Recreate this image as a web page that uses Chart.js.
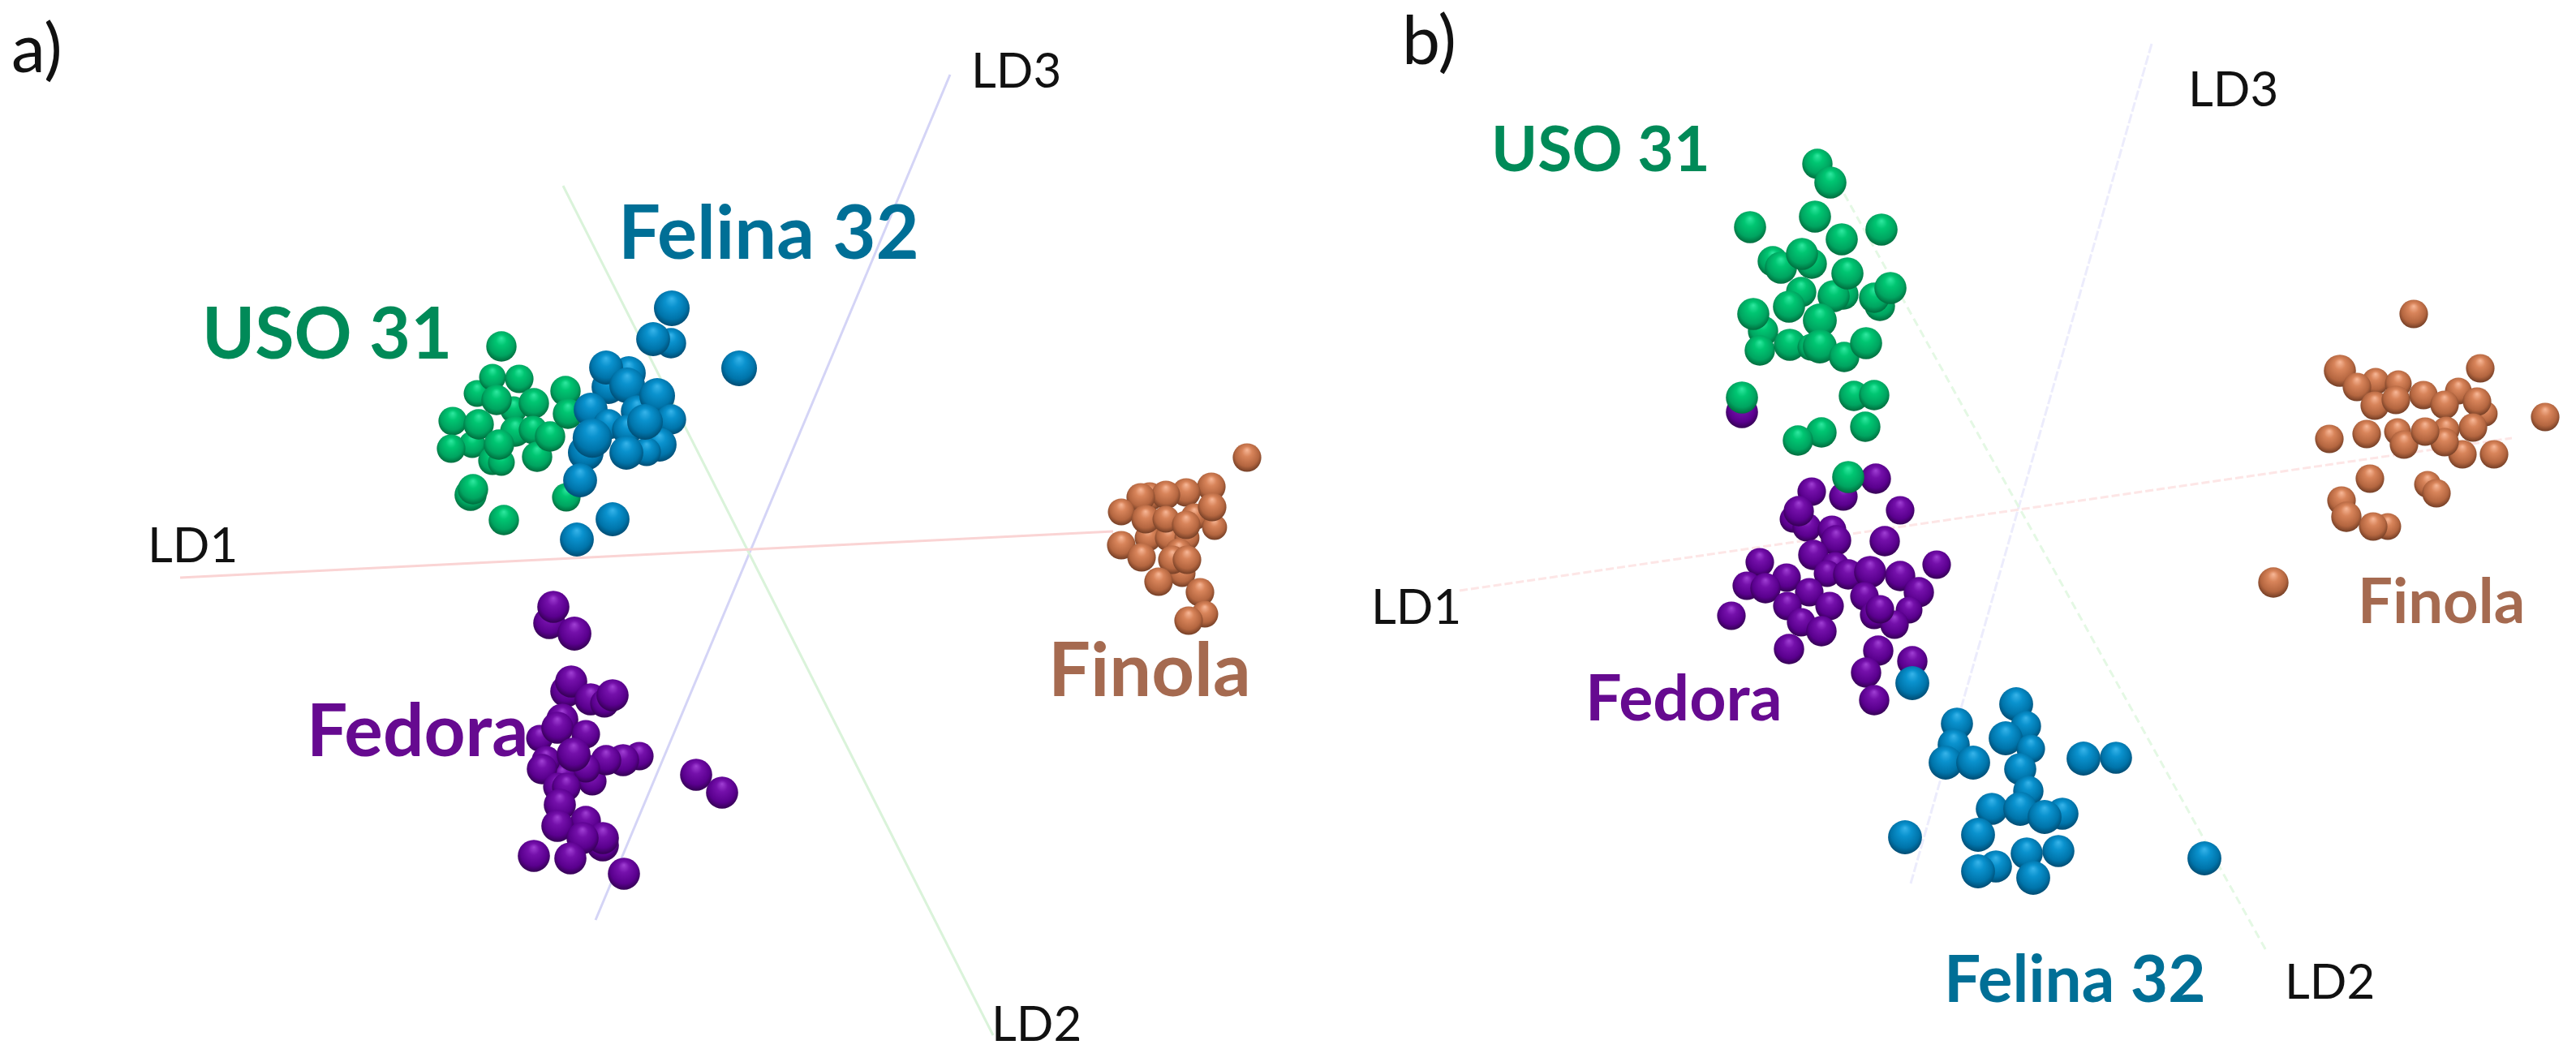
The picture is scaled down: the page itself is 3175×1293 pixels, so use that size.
<!DOCTYPE html>
<html>
<head>
    <title>LDA</title>
    <script src="https://cdn.jsdelivr.net/npm/chart.js"></script>
    <style>
        html, body { margin: 0; padding: 0; background: #fff; }
        #page { position: relative; width: 3175px; height: 1293px; overflow: hidden; background: #fff; }
        canvas { position: absolute; top: 0; }
        #chartA { left: 0; }
        #chartB { left: 1588px; }
        .lab { position: absolute; font-family: Lato, sans-serif; line-height: 1; white-space: nowrap; }
        .ld { font-size: 60px; color: #111; }
        .panel { font-size: 84px; color: #111; }
        .name { font-weight: bold; }
        .uso { color: #008a58; }
        .felina { color: #006f96; }
        .fedora { color: #660a90; }
        .finola { color: #a56a50; }
    </style>
</head>
<body>
<div id="page">
    <canvas id="chartA" width="1588" height="1293"></canvas>
    <canvas id="chartB" width="1587" height="1293"></canvas>

    <div class="lab panel" style="left:14px;top:15px">a)</div>
    <div class="lab ld" style="left:1197px;top:55px">LD3</div>
    <div class="lab ld" style="left:182px;top:640px">LD1</div>
    <div class="lab ld" style="left:1222px;top:1230px">LD2</div>
    <div class="lab name felina" style="left:762px;top:238px;font-size:92px">Felina 32</div>
    <div class="lab name uso" style="left:249px;top:364px;font-size:88px">USO 31</div>
    <div class="lab name fedora" style="left:378px;top:853px;font-size:89px">Fedora</div>
    <div class="lab name finola" style="left:1292px;top:777px;font-size:92px">Finola</div>

    <div class="lab panel" style="left:1728px;top:5px">b)</div>
    <div class="lab ld" style="left:2697px;top:78px">LD3</div>
    <div class="lab ld" style="left:1690px;top:716px">LD1</div>
    <div class="lab ld" style="left:2816px;top:1178px">LD2</div>
    <div class="lab name uso" style="left:1838px;top:143px;font-size:77px">USO 31</div>
    <div class="lab name fedora" style="left:1954px;top:818px;font-size:79px">Fedora</div>
    <div class="lab name finola" style="left:2906px;top:701px;font-size:76px">Finola</div>
    <div class="lab name felina" style="left:2396px;top:1164px;font-size:80px">Felina 32</div>
</div>

<script>
    // projected LD scores: [x, y, sphere radius], origin where the LD axes cross
    const usoA = [[-341,129,15],[-316,109,16],[-305,107,15],[-335,192,15],[-290,172,15],[-316,212,15],[-283,210,16],[-311,184,17],
        [-265,180,17],[-365,158,16],[-367,124,16],[-333,154,17],[-288,145,17],[-266,147,16],[-308,129,17],[-261,114,17],
        [-245,139,17],[-305,250,17],[-226,195,17],[-223,167,17],[-343,67,18],[-340,74,17],[-302,36,17],[-225,64,16]];
    const felinaA = [[-96,254,17],[-118,259,19],[-95,297,20],[-12,223,20],[-148,217,19],[-173,200,19],[-176,224,19],[-150,202,20],
        [-138,170,18],[-113,189,20],[-96,160,17],[-195,172,19],[-173,154,17],[-150,147,17],[-110,129,19],[-126,120,16],
        [-151,119,19],[-128,157,20],[-201,119,20],[-193,137,22],[-208,85,19],[-168,37,19],[-212,12,19]];
    const fedoraA = [[-246,-91,18],[-241,-71,18],[-215,-104,19],[-225,-175,18],[-219,-163,18],[-195,-185,18],[-178,-190,16],
        [-168,-180,18],[-258,-233,15],[-230,-210,18],[-236,-220,18],[-201,-228,16],[-193,-286,16],[-135,-255,16],[-155,-260,18],
        [-176,-260,17],[-201,-270,16],[-230,-280,15],[-250,-260,16],[-255,-271,17],[-216,-253,19],[-236,-293,16],[-225,-293,16],
        [-233,-315,18],[-201,-335,17],[-236,-341,18],[-180,-365,18],[-180,-356,18],[-205,-356,18],[-265,-378,18],[-220,-381,18],
        [-154,-400,18],[-65,-278,18],[-33,-300,18]];
    const finolaA = [[614,113,16],[494,65,16],[570,77,16],[539,70,16],[514,67,16],[483,64,16],[459,46,15],[492,14,15],[517,14,15],
        [540,14,14],[549,40,15],[489,37,16],[514,37,15],[574,27,14],[539,30,16],[571,52,16],[459,5,16],[484,-10,16],[534,-30,15],
        [530,-3,15],[522,-13,16],[540,-13,16],[505,-40,16],[556,-53,16],[562,-80,15],[542,-88,16]];

    const usoB = [[-249,425,17],[-233,402,18],[-252,360,18],[-332,347,18],[-219,332,18],[-170,344,18],[-304,305,17],[-256,302,17],
        [-294,297,18],[-268,314,18],[-269,267,17],[-284,249,18],[-217,264,17],[-229,262,18],[-212,290,18],[-172,250,17],
        [-179,260,17],[-159,272,18],[-246,232,19],[-316,219,17],[-320,195,17],[-328,240,18],[-283,202,18],[-257,199,15],
        [-246,200,19],[-216,187,17],[-189,204,18],[-342,137,18],[-204,139,17],[-179,140,17],[-190,101,17],[-244,94,17],
        [-273,84,17],[-211,39,18]];
    const fedoraB = [[-342,119,18],[-177,37,17],[-217,15,16],[-256,21,16],[-147,-2,16],[-279,-13,15],[-262,-23,16],[-272,-3,17],
        [-231,-26,16],[-226,-39,17],[-166,-40,17],[-254,-57,17],[-227,-71,16],[-237,-80,15],[-320,-66,16],[-336,-95,16],
        [-287,-85,16],[-313,-98,17],[-259,-103,16],[-211,-81,17],[-184,-78,18],[-147,-83,17],[-102,-69,16],[-191,-108,16],
        [-124,-103,17],[-136,-125,15],[-286,-120,16],[-234,-120,16],[-179,-131,16],[-154,-143,16],[-172,-124,16],[-269,-140,16],
        [-244,-151,17],[-355,-132,16],[-284,-173,17],[-174,-175,17],[-132,-188,17],[-189,-202,17],[-179,-236,17]];
    const felinaB = [[-132,-215,19],[-4,-241,19],[8,-268,17],[-17,-283,19],[-77,-265,18],[-81,-291,18],[-91,-313,19],[-57,-313,19],
        [14,-296,16],[1,-321,18],[79,-308,19],[119,-307,18],[11,-348,17],[-34,-370,18],[1,-370,19],[53,-376,18],[31,-380,19],
        [-51,-402,19],[-141,-405,19],[48,-422,18],[9,-425,18],[-29,-441,18],[-51,-447,19],[17,-455,19],[228,-431,19]];
    const finolaB = [[486,240,16],[395,170,18],[568,173,16],[439,157,15],[416,150,16],[467,154,15],[438,127,16],[464,134,16],
        [498,140,16],[541,145,15],[524,128,16],[574,117,14],[564,132,16],[559,100,16],[546,67,16],[526,97,15],[585,67,16],
        [524,82,16],[466,95,15],[474,79,16],[500,95,16],[428,92,16],[382,86,16],[432,37,16],[503,30,15],[514,19,16],
        [397,10,16],[403,-10,17],[454,-22,15],[436,-22,16],[313,-91,17],[648,113,16]];

    // ends of the LD axes in the same units
    const ld1A = [[-701,-35],[449,22]];
    const ld2A = [[-229,448],[301,-599]];
    const ld3A = [[248,585],[-189,-457]];
    const ld1B = [[-690,-101],[607,87]];
    const ld2B = [[-216,388],[306,-548]];
    const ld3B = [[163,573],[-134,-462]];

    // highlight, light, mid, dark
    const usoColors = ['#2fe8a0', '#00c672', '#00a460', '#006a3c'];
    const felinaColors = ['#38b4ea', '#0a92ce', '#0074aa', '#004a70'];
    const fedoraColors = ['#a040d4', '#7410aa', '#5a008e', '#320050'];
    const finolaColors = ['#f8b898', '#d8845a', '#b46640', '#703c24'];

    // spheres look a bit fatter in the picture than the measured radius, edges are blurred
    const sizeFactor = 1.1;

    function sphereFill(colors) {
        return function (c) {
            if (c.type !== 'data') {
                return colors[1];
            }
            const x = c.chart.scales.x.getPixelForValue(c.raw.x);
            const y = c.chart.scales.y.getPixelForValue(c.raw.y);
            const r = c.raw.r;
            // bubble controller asks for options once before the scales are laid out
            if (!isFinite(x) || !isFinite(y)) {
                return colors[1];
            }
            const g = c.chart.ctx.createRadialGradient(x, y - r * 0.55, 0, x, y - r * 0.1, r * 1.12);
            g.addColorStop(0, colors[0]);
            g.addColorStop(0.32, colors[1]);
            g.addColorStop(0.74, colors[2]);
            g.addColorStop(1, colors[3]);
            return g;
        };
    }

    function spheres(name, rows, colors) {
        return {
            label: name,
            data: rows.map(p => ({x: p[0], y: p[1], r: p[2] * sizeFactor})),
            backgroundColor: sphereFill(colors),
            borderWidth: 0
        };
    }

    function axisLine(name, ends, color, dash) {
        return {
            type: 'line',
            label: name,
            data: ends.map(p => ({x: p[0], y: p[1]})),
            borderColor: color,
            borderWidth: 3,
            borderDash: dash,
            pointRadius: 0,
            order: 10
        };
    }

    function drawPanel(id, sets, xMin, xMax, yMin, yMax) {
        new Chart(document.getElementById(id), {
            type: 'bubble',
            data: {datasets: sets},
            options: {
                responsive: false,
                animation: false,
                devicePixelRatio: 1,
                layout: {padding: 0, autoPadding: false},
                plugins: {legend: {display: false}, tooltip: {enabled: false}},
                events: [],
                scales: {
                    x: {type: 'linear', display: false, min: xMin, max: xMax},
                    y: {type: 'linear', display: false, min: yMin, max: yMax}
                }
            }
        });
    }

    // first dataset ends up on top
    drawPanel('chartA', [
        spheres('Felina 32', felinaA, felinaColors),
        spheres('USO 31', usoA, usoColors),
        spheres('Fedora', fedoraA, fedoraColors),
        spheres('Finola', finolaA, finolaColors),
        axisLine('LD1', ld1A, '#fad4d4', []),
        axisLine('LD2', ld2A, '#daf3da', []),
        axisLine('LD3', ld3A, '#d4d4f6', [])
    ], -923, 665, -616, 677);

    drawPanel('chartB', [
        spheres('Felina 32', felinaB, felinaColors),
        spheres('USO 31', usoB, usoColors),
        spheres('Fedora', fedoraB, fedoraColors),
        spheres('Finola', finolaB, finolaColors),
        axisLine('LD1', ld1B, '#fde6e6', [10, 4]),
        axisLine('LD2', ld2B, '#e4f8e4', [10, 6]),
        axisLine('LD3', ld3B, '#ececfc', [12, 3])
    ], -901, 686, -666, 627);
</script>
</body>
</html>
